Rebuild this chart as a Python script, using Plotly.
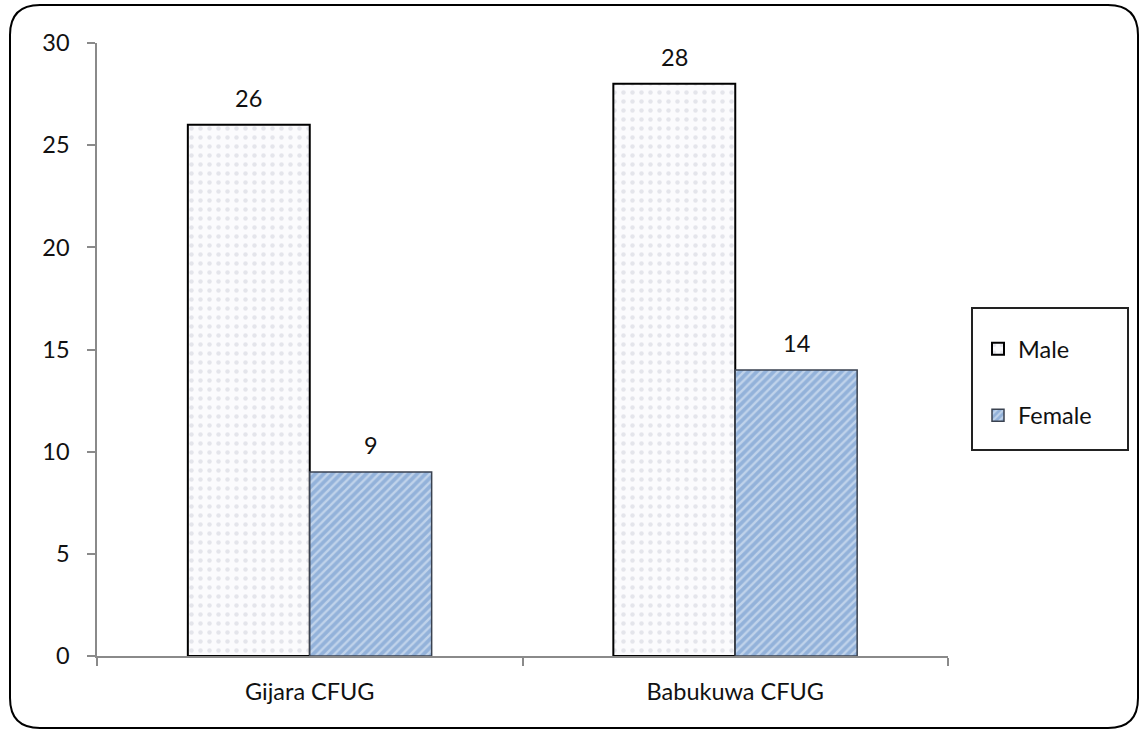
import plotly.graph_objects as go

categories = ["Gijara CFUG", "Babukuwa CFUG"]
male = [26, 28]
female = [9, 14]
y_ticks = [0, 5, 10, 15, 20, 25, 30]

W, H = 1148, 735
L, R, T, B = 97, 200, 43, 79
PW, PH = W - L - R, H - T - B

FONT = "Lato, 'Open Sans', sans-serif"
FS = 23.5
BARGAP = 0.427


def px_to_paper(x, y):
    return (x - L) / PW, 1 - (y - T) / PH


fig = go.Figure()
fig.add_trace(go.Bar(
    x=categories, y=male, name="Male", legendgroup="m",
    marker=dict(
        color="white",
        line=dict(color="black", width=2),
        pattern=dict(shape=".", fgcolor="#cdd0d9", bgcolor="#fbfbfd",
                     size=9, solidity=0.2),
    ),
))
fig.add_trace(go.Bar(
    x=categories, y=female, name="Female", legendgroup="f",
    marker=dict(
        color="#9cb9df",
        line=dict(color="#3a4250", width=1.5),
        pattern=dict(shape="/", fgcolor="#eef4fb", bgcolor="#93b2da",
                     size=6, solidity=0.4),
    ),
))

# value labels above each bar
bw = (1 - BARGAP) / 2
for series, off in ((male, -bw / 2), (female, bw / 2)):
    for i, v in enumerate(series):
        fig.add_annotation(x=i + off, y=v, text=str(v), showarrow=False,
                           yanchor="bottom", yshift=11,
                           font=dict(size=FS, color="#111", family=FONT))

# rounded outer frame around the whole chart
x0, y0, x1, y1, r = 10, 5, 1138, 728, 30
pts = {
    "a": px_to_paper(x0 + r, y0), "b": px_to_paper(x1 - r, y0),
    "c": px_to_paper(x1, y0), "d": px_to_paper(x1, y0 + r),
    "e": px_to_paper(x1, y1 - r), "f": px_to_paper(x1, y1),
    "g": px_to_paper(x1 - r, y1), "h": px_to_paper(x0 + r, y1),
    "i": px_to_paper(x0, y1), "j": px_to_paper(x0, y1 - r),
    "k": px_to_paper(x0, y0 + r), "l": px_to_paper(x0, y0),
}
p = lambda k: f"{pts[k][0]:.5f},{pts[k][1]:.5f}"
path = (f"M {p('a')} L {p('b')} Q {p('c')} {p('d')} L {p('e')} "
        f"Q {p('f')} {p('g')} L {p('h')} Q {p('i')} {p('j')} L {p('k')} "
        f"Q {p('l')} {p('a')} Z")
fig.add_shape(type="path", path=path, xref="paper", yref="paper",
              line=dict(color="black", width=2), layer="below")

# legend box
bx0, by0 = px_to_paper(972, 308)
bx1, by1 = px_to_paper(1128, 450)
fig.add_shape(type="rect", xref="paper", yref="paper",
              x0=bx0, y0=by1, x1=bx1, y1=by0,
              line=dict(color="#222", width=2), fillcolor="white",
              layer="below")

lx, ly = px_to_paper(978, 327)

fig.update_layout(
    width=W, height=H,
    margin=dict(l=L, r=R, t=T, b=B),
    paper_bgcolor="white", plot_bgcolor="white",
    font=dict(family=FONT, size=FS, color="#111"),
    barmode="group", bargap=BARGAP, bargroupgap=0,
    showlegend=True,
    legend=dict(
        x=lx, y=ly, xanchor="left", yanchor="top",
        borderwidth=0, bgcolor="rgba(0,0,0,0)",
        font=dict(size=FS, family=FONT),
        tracegroupgap=33, traceorder="grouped",
        itemwidth=30,
    ),
    xaxis=dict(
        showline=True, linecolor="#8a8a8a", linewidth=1.5,
        ticks="outside", tickson="boundaries", ticklen=8,
        tickcolor="#8a8a8a", tickwidth=1.5,
        tickfont=dict(size=FS), showgrid=False,
        ticklabelstandoff=14,
    ),
    yaxis=dict(
        range=[0, 30], tickvals=y_ticks,
        showline=True, linecolor="#8a8a8a", linewidth=1.5,
        ticks="outside", ticklen=8, tickcolor="#8a8a8a", tickwidth=1.5,
        tickfont=dict(size=FS), showgrid=False, zeroline=False,
        ticklabelstandoff=13,
    ),
)

fig.write_html("out.html")
